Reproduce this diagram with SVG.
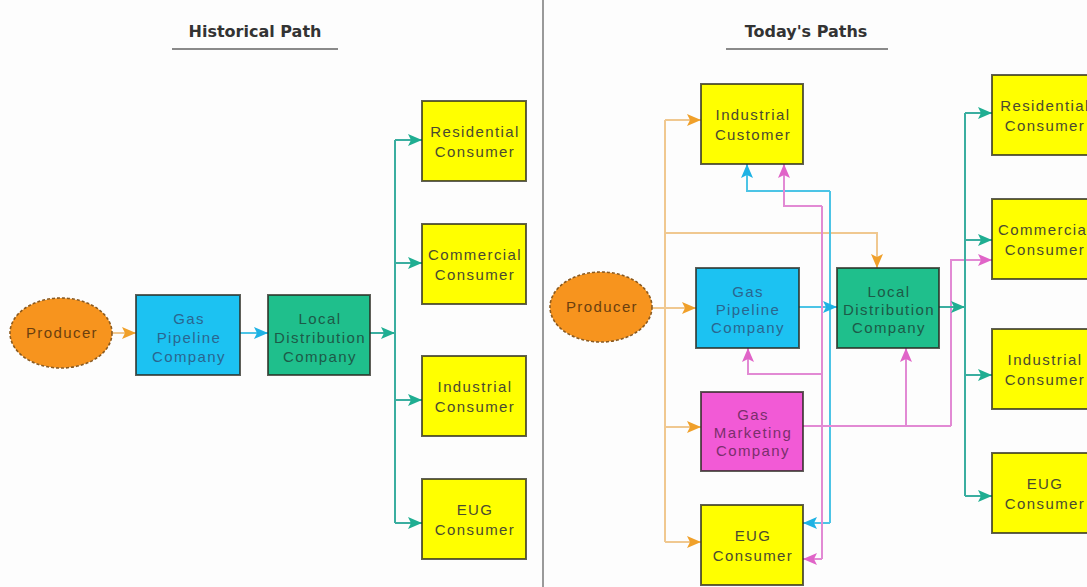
<svg xmlns="http://www.w3.org/2000/svg" width="1087" height="587" viewBox="0 0 1087 587">
  <style>
    .title { font-family: "DejaVu Sans", Verdana, sans-serif; font-weight: bold; font-size: 16px; fill: #333; text-anchor: middle; }
    .rule { stroke: #8a8a8a; stroke-width: 2; }
    .lbl { font-family: "Liberation Sans", Arial, sans-serif; font-size: 15px; letter-spacing: 1.4px; text-anchor: middle; }
    .box { stroke: #2a2a20; stroke-opacity: 0.75; stroke-width: 2; }
    .yellow { fill: #ffff00; }
    .yellow-t { fill: #4a4a30; }
    .cyan { fill: #1cc2f2; }
    .cyan-t { fill: #2a6690; }
    .green { fill: #1fbf8c; }
    .green-t { fill: #1d5a48; }
    .pink { fill: #f25ad6; }
    .pink-t { fill: #7a2f6c; }
    .prod { fill: #f7941e; stroke: #8a5a20; stroke-width: 1.6; stroke-dasharray: 3 2; }
    .prod-t { fill: #6b3f0e; }
    .c-or { fill: none; stroke: #f0c890; stroke-width: 2; }
    .c-cy { fill: none; stroke: #4cc4e6; stroke-width: 2; }
    .c-te { fill: none; stroke: #3aaea0; stroke-width: 2; }
    .c-pk { fill: none; stroke: #e28ad4; stroke-width: 2; }
    .a-or { marker-end: url(#ah-or); }
    .a-cy { marker-end: url(#ah-cy); }
    .a-te { marker-end: url(#ah-te); }
    .a-pk { marker-end: url(#ah-pk); }
  </style>
  <defs>
    <marker id="ah-or" markerUnits="userSpaceOnUse" markerWidth="16" markerHeight="14" refX="14" refY="7" orient="auto">
      <path d="M0,1 L14,7 L0,13 L3,7 z" fill="#f0a02a"/>
    </marker>
    <marker id="ah-cy" markerUnits="userSpaceOnUse" markerWidth="16" markerHeight="14" refX="14" refY="7" orient="auto">
      <path d="M0,1 L14,7 L0,13 L3,7 z" fill="#1eb2e4"/>
    </marker>
    <marker id="ah-te" markerUnits="userSpaceOnUse" markerWidth="16" markerHeight="14" refX="14" refY="7" orient="auto">
      <path d="M0,1 L14,7 L0,13 L3,7 z" fill="#1fae92"/>
    </marker>
    <marker id="ah-pk" markerUnits="userSpaceOnUse" markerWidth="16" markerHeight="14" refX="14" refY="7" orient="auto">
      <path d="M0,1 L14,7 L0,13 L3,7 z" fill="#e064c8"/>
    </marker>
  </defs>

  <rect x="0" y="0" width="1087" height="587" fill="#fdfdfd"/>

  <!-- panel divider -->
  <line x1="543" y1="0" x2="543" y2="587" stroke="#9a9a9a" stroke-width="2"/>

  <!-- panel titles -->
  <g id="title-historical">
    <text class="title" x="255" y="37">Historical Path</text>
    <line class="rule" x1="172" y1="49" x2="338" y2="49"/>
  </g>
  <g id="title-today">
    <text class="title" x="806" y="37">Today's Paths</text>
    <line class="rule" x1="726" y1="49" x2="888" y2="49"/>
  </g>

  <!-- connectors -->
  <g id="connectors">
    <!-- historical path -->
    <path class="c-or a-or" d="M112,333 L136,333"/>
    <path class="c-cy a-cy" d="M240,333 L268,333"/>
    <path class="c-te a-te" d="M370,333 L395,333"/>
    <path class="c-te" d="M395,140 L395,523"/>
    <path class="c-te a-te" d="M395,140 L422,140"/>
    <path class="c-te a-te" d="M395,263 L422,263"/>
    <path class="c-te a-te" d="M395,400 L422,400"/>
    <path class="c-te a-te" d="M395,523 L422,523"/>

    <!-- today's paths: producer -->
    <path class="c-or" d="M665,120 L665,542"/>
    <path class="c-or a-or" d="M652,308 L696,308"/>
    <path class="c-or a-or" d="M665,120 L701,120"/>
    <path class="c-or a-or" d="M665,427 L701,427"/>
    <path class="c-or a-or" d="M665,542 L701,542"/>
    <path class="c-or a-or" d="M665,233 L877,233 L877,268"/>

    <!-- today's paths: gas pipeline -->
    <path class="c-cy" d="M830,191 L830,523"/>
    <path class="c-cy a-cy" d="M799,307 L837,307"/>
    <path class="c-cy a-cy" d="M830,191 L747,191 L747,164"/>
    <path class="c-cy a-cy" d="M830,523 L803,523"/>

    <!-- today's paths: gas marketing -->
    <path class="c-pk" d="M803,426 L951,426"/>
    <path class="c-pk" d="M822,206 L822,559"/>
    <path class="c-pk a-pk" d="M951,426 L951,260 L992,260"/>
    <path class="c-pk a-pk" d="M906,426 L906,348"/>
    <path class="c-pk a-pk" d="M822,206 L784,206 L784,164"/>
    <path class="c-pk a-pk" d="M822,374 L748,374 L748,348"/>
    <path class="c-pk a-pk" d="M822,559 L803,559"/>

    <!-- today's paths: local distribution -->
    <path class="c-te a-te" d="M939,307 L965,307"/>
    <path class="c-te" d="M965,113 L965,496"/>
    <path class="c-te a-te" d="M965,113 L992,113"/>
    <path class="c-te a-te" d="M965,240 L992,240"/>
    <path class="c-te a-te" d="M965,375 L992,375"/>
    <path class="c-te a-te" d="M965,496 L992,496"/>
  </g>

  <!-- historical path nodes -->
  <g id="h-producer">
    <ellipse class="prod" cx="61" cy="333" rx="51" ry="35"/>
    <text class="lbl prod-t" x="62" y="338">Producer</text>
  </g>
  <g id="h-pipeline">
    <rect class="box cyan" x="136" y="295" width="104" height="80"/>
    <text class="lbl cyan-t" x="189" y="324">Gas</text>
    <text class="lbl cyan-t" x="189" y="343">Pipeline</text>
    <text class="lbl cyan-t" x="189" y="362">Company</text>
  </g>
  <g id="h-ldc">
    <rect class="box green" x="268" y="295" width="102" height="80"/>
    <text class="lbl green-t" x="320" y="324">Local</text>
    <text class="lbl green-t" x="320" y="343">Distribution</text>
    <text class="lbl green-t" x="320" y="362">Company</text>
  </g>
  <g id="h-residential">
    <rect class="box yellow" x="422" y="101" width="104" height="80"/>
    <text class="lbl yellow-t" x="475" y="137">Residential</text>
    <text class="lbl yellow-t" x="475" y="157">Consumer</text>
  </g>
  <g id="h-commercial">
    <rect class="box yellow" x="422" y="224" width="104" height="80"/>
    <text class="lbl yellow-t" x="475" y="260">Commercial</text>
    <text class="lbl yellow-t" x="475" y="280">Consumer</text>
  </g>
  <g id="h-industrial">
    <rect class="box yellow" x="422" y="356" width="104" height="80"/>
    <text class="lbl yellow-t" x="475" y="392">Industrial</text>
    <text class="lbl yellow-t" x="475" y="412">Consumer</text>
  </g>
  <g id="h-eug">
    <rect class="box yellow" x="422" y="479" width="104" height="80"/>
    <text class="lbl yellow-t" x="475" y="515">EUG</text>
    <text class="lbl yellow-t" x="475" y="535">Consumer</text>
  </g>

  <!-- today's paths nodes -->
  <g id="t-producer">
    <ellipse class="prod" cx="601" cy="307" rx="51" ry="35"/>
    <text class="lbl prod-t" x="602" y="312">Producer</text>
  </g>
  <g id="t-industrial-customer">
    <rect class="box yellow" x="701" y="84" width="102" height="80"/>
    <text class="lbl yellow-t" x="753" y="120">Industrial</text>
    <text class="lbl yellow-t" x="753" y="140">Customer</text>
  </g>
  <g id="t-pipeline">
    <rect class="box cyan" x="696" y="268" width="103" height="80"/>
    <text class="lbl cyan-t" x="748" y="297">Gas</text>
    <text class="lbl cyan-t" x="748" y="315">Pipeline</text>
    <text class="lbl cyan-t" x="748" y="333">Company</text>
  </g>
  <g id="t-ldc">
    <rect class="box green" x="837" y="268" width="102" height="80"/>
    <text class="lbl green-t" x="889" y="297">Local</text>
    <text class="lbl green-t" x="889" y="315">Distribution</text>
    <text class="lbl green-t" x="889" y="333">Company</text>
  </g>
  <g id="t-gas-marketing">
    <rect class="box pink" x="701" y="392" width="102" height="79"/>
    <text class="lbl pink-t" x="753" y="420">Gas</text>
    <text class="lbl pink-t" x="753" y="438">Marketing</text>
    <text class="lbl pink-t" x="753" y="456">Company</text>
  </g>
  <g id="t-eug-direct">
    <rect class="box yellow" x="701" y="505" width="102" height="80"/>
    <text class="lbl yellow-t" x="753" y="541">EUG</text>
    <text class="lbl yellow-t" x="753" y="561">Consumer</text>
  </g>
  <!-- right-hand consumers run off the page edge -->
  <g id="t-residential">
    <rect class="box yellow" x="992" y="75" width="104" height="80"/>
    <text class="lbl yellow-t" x="1045" y="111">Residential</text>
    <text class="lbl yellow-t" x="1045" y="131">Consumer</text>
  </g>
  <g id="t-commercial">
    <rect class="box yellow" x="992" y="199" width="104" height="80"/>
    <text class="lbl yellow-t" x="1045" y="235">Commercial</text>
    <text class="lbl yellow-t" x="1045" y="255">Consumer</text>
  </g>
  <g id="t-industrial">
    <rect class="box yellow" x="992" y="329" width="104" height="80"/>
    <text class="lbl yellow-t" x="1045" y="365">Industrial</text>
    <text class="lbl yellow-t" x="1045" y="385">Consumer</text>
  </g>
  <g id="t-eug">
    <rect class="box yellow" x="992" y="453" width="104" height="80"/>
    <text class="lbl yellow-t" x="1045" y="489">EUG</text>
    <text class="lbl yellow-t" x="1045" y="509">Consumer</text>
  </g>
</svg>
